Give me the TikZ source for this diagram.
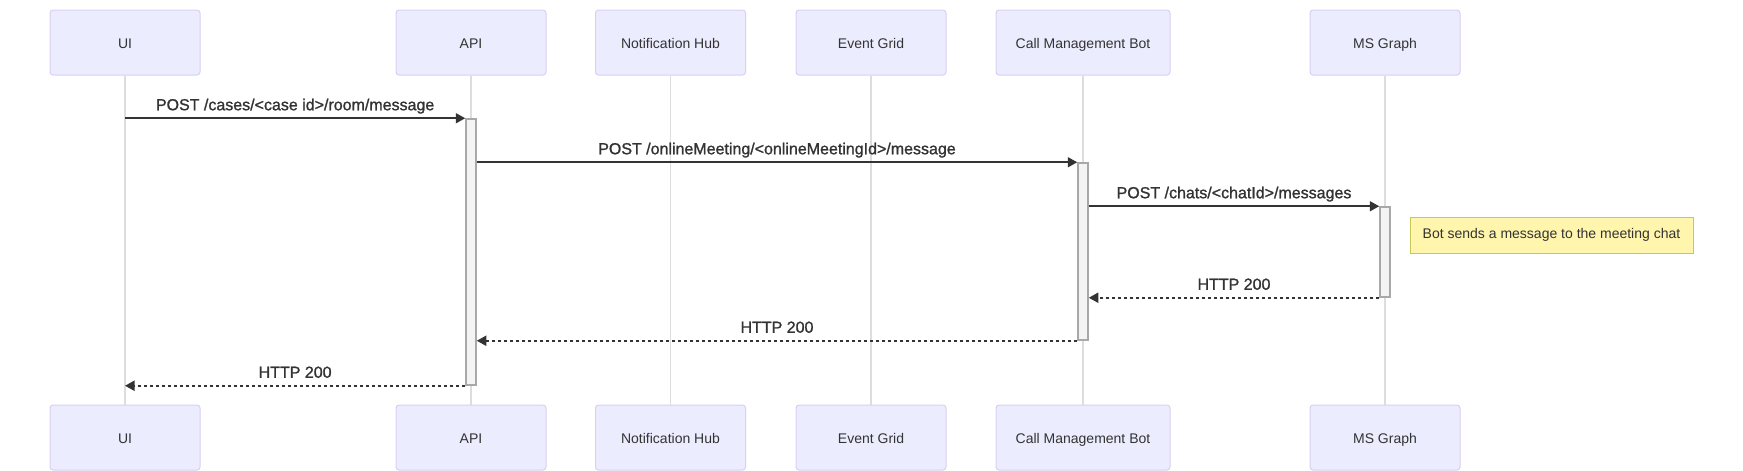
\documentclass[tikz,border=0pt]{standalone}
\usepackage{fontspec}
\setmainfont{Liberation Sans}
\newfontfamily\msgfont[FakeBold=1.2]{Liberation Sans}
\usepackage{xcolor}
\usepackage{tikz}
\usetikzlibrary{arrows.meta}
\definecolor{txt}{HTML}{333333}
\definecolor{actfill}{HTML}{ECECFF}
\definecolor{actline}{HTML}{DACEF3}
\definecolor{lifeline}{HTML}{DDDDDD}
\definecolor{actvfill}{HTML}{F4F4F4}
\definecolor{actvline}{HTML}{A8A8A8}
\definecolor{notefill}{HTML}{FFF5AD}
\definecolor{noteline}{HTML}{C8C85A}

\begin{document}
\begin{tikzpicture}[x=1pt, y=-1pt, font=\fontsize{14}{17}\selectfont, text=txt,
  actor/.style={draw=actline, fill=actfill, rounded corners=3pt, line width=1pt,
    minimum width=150pt, minimum height=65pt, text height=12pt, text depth=0pt},
  life/.style={draw=lifeline, line width=1.5pt},
  actv/.style={draw=actvline, fill=actvfill, line width=1.5pt, minimum width=10pt, inner sep=0pt},
  msg/.style={draw=txt, line width=1.8pt, -{Triangle[length=9.5pt, width=10pt]}},
  reply/.style={msg, dash pattern=on 3pt off 3pt},
  lbl/.style={font=\msgfont\fontsize{16}{19}\selectfont, anchor=base, yshift=8pt, inner sep=0pt},
  note/.style={draw=noteline, fill=notefill, line width=1pt, minimum width=283pt, minimum height=36pt},
]
\useasboundingbox (0,0) rectangle (1743,471);
\node[actor] (ui) at (125,42.5) {UI};
\node[actor] (api) at (471,42.5) {API};
\node[actor] (hub) at (670.5,42.5) {Notification Hub};
\node[actor] (grid) at (871,42.5) {Event Grid};
\node[actor, minimum width=174pt] (bot) at (1083,42.5) {Call Management Bot};
\node[actor] (graph) at (1385,42.5) {MS Graph};
\node[actor] (ui2) at (125,437.5) {UI};
\node[actor] (api2) at (471,437.5) {API};
\node[actor] (hub2) at (670.5,437.5) {Notification Hub};
\node[actor] (grid2) at (871,437.5) {Event Grid};
\node[actor, minimum width=174pt] (bot2) at (1083,437.5) {Call Management Bot};
\node[actor] (graph2) at (1385,437.5) {MS Graph};
\foreach \n in {ui,api,hub,grid,bot,graph}
  \draw[life] (\n.south) -- (\n2.north);
\node[actv, minimum height=266pt] (aapi) at (471,252) {};
\node[actv, minimum height=177pt] (abot) at (1083,251.5) {};
\node[actv, minimum height=90pt] (agraph) at (1385,252) {};
\node[note] (nt) at (1551.5,235) {Bot sends a message to the meeting chat};
\draw[msg] (ui |- aapi.north) -- (aapi.north west)
  node[lbl, midway] (m1) {POST /cases/<case id>/room/message};
\draw[msg] (aapi.east |- abot.north) -- (abot.north west)
  node[lbl, midway] (m2) {POST /onlineMeeting/<onlineMeetingId>/message};
\draw[msg] (abot.east |- agraph.north) -- (agraph.north west)
  node[lbl, midway] (m3) {POST /chats/<chatId>/messages};
\draw[reply] (agraph.south west) -- (abot.east |- agraph.south)
  node[lbl, midway] (r1) {HTTP 200};
\draw[reply] (abot.south west) -- (aapi.east |- abot.south)
  node[lbl, midway] (r2) {HTTP 200};
\draw[reply] (aapi.south west) -- (ui |- aapi.south)
  node[lbl, midway] (r3) {HTTP 200};
\end{tikzpicture}
\end{document}
